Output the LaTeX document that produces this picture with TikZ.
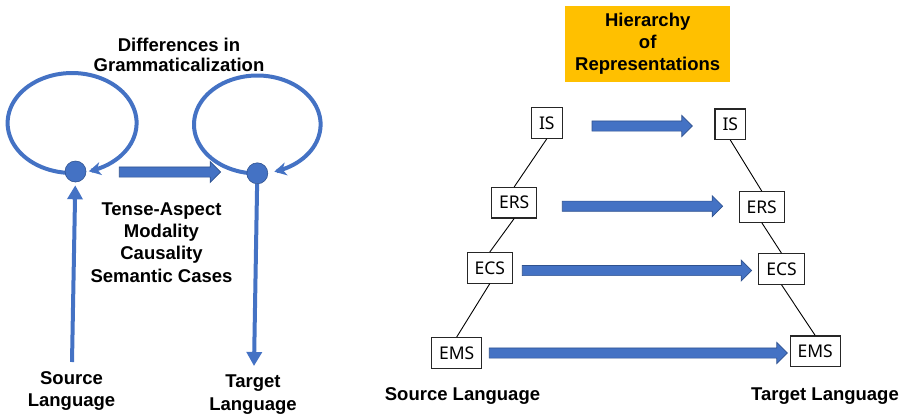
\documentclass[tikz,border=0pt]{standalone}
\usepackage{fontspec}
\setmainfont{Noto Sans}
\newfontfamily\lblfont{Liberation Sans}
\usetikzlibrary{arrows.meta,calc}
\definecolor{blu}{HTML}{4472C4}
\definecolor{bludark}{HTML}{2F528F}
\definecolor{orng}{HTML}{FFC000}
\pgfdeclarelayer{bg}
\pgfsetlayers{bg,main}
\tikzset{
  lbl/.style={font=\lblfont\fontsize{18.5}{22.2}\selectfont\bfseries, align=center, inner sep=0pt},
  rep/.style={draw=black!85, line width=1.1pt, font=\fontsize{17.5}{20}\selectfont, inner xsep=7.5pt, inner ysep=0pt, minimum height=30.5pt},
  link/.style={line width=0.9pt, black},
  dot/.style={circle, fill=blu, draw=bludark, line width=0.6pt, minimum size=21pt, inner sep=0pt},
  loopline/.style={blu, line width=4pt, -{Stealth[length=12pt,width=13pt,inset=3.5pt]}},
  varrow/.style={blu, line width=4pt, -{Triangle[length=14pt,width=15pt]}},
  blockarrow/.style={fill=blu, draw=bludark, line width=0.7pt},
}
\newcommand{\blockarr}[2]{\path[blockarrow] let \p1=(#1), \p2=(#2) in
  (\x1,\y1+5.1pt) -- (\x2-10.5pt,\y1+5.1pt) -- (\x2-10.5pt,\y1+10.5pt) -- (\x2,\y1)
  -- (\x2-10.5pt,\y1-10.5pt) -- (\x2-10.5pt,\y1-5.1pt) -- (\x1,\y1-5.1pt) -- cycle;}
\begin{document}
\begin{tikzpicture}[x=1pt,y=-1pt]
\useasboundingbox (0,0) rectangle (905,416);

% ---------- left part ----------
\node[dot] (dotL) at (75.5,171.5) {};
\node[dot] (dotR) at (257.3,173.3) {};
\coordinate (srcbase) at (72,362);
\coordinate (tgtbase) at (254,366);

\begin{pgfonlayer}{bg}
  \draw[loopline] plot[domain=87:435, samples=90, smooth] ({72.1+64.5*cos(\x)},{123+50*sin(\x)});
  \draw[loopline] plot[domain=90:434.4, samples=90, smooth] ({257.3+63.3*cos(\x)},{124.5+49*sin(\x)});
  \draw[varrow, shorten >=3pt] (srcbase) -- (dotL);
  \draw[varrow] (dotR) -- (tgtbase);
\end{pgfonlayer}

\coordinate (gA) at (119.3,172);
\coordinate (gB) at (220.7,172);
\blockarr{gA}{gB}

\node[lbl, font=\lblfont\fontsize{18.5}{20.5}\selectfont\bfseries] (diff) at (179,55) {Differences in\\Grammaticalization};
\node[lbl] (cats) at (161.5,242.5) {Tense-Aspect\\Modality\\Causality\\Semantic Cases};
\node[lbl] (srcL) at (71.5,391) {Source\\Language};
\node[lbl] (tgtL) at (253,394.5) {Target\\Language};

% ---------- right part ----------
\node[lbl, fill=orng, minimum width=164.7pt, minimum height=75.7pt] (hier) at (647.7,43.8) {Hierarchy\\of\\Representations};

\node[rep] (isL)  at (546.8,123) {IS};
\node[rep] (ersL) at (514.2,202.7) {ERS};
\node[rep] (ecsL) at (489.8,267.8) {ECS};
\node[rep] (emsL) at (456.7,352.8) {EMS};
\node[rep] (isR)  at (730.3,124.2) {IS};
\node[rep] (ersR) at (761.7,206.8) {ERS};
\node[rep] (ecsR) at (781.5,269) {ECS};
\node[rep] (emsR) at (815.2,351.2) {EMS};

\draw[link] (isL.south) -- (ersL.north);
\draw[link] (ersL.south) -- (ecsL.north);
\draw[link] (ecsL.south) -- (emsL.north);
\draw[link] (isR.south) -- (ersR.north);
\draw[link] (ersR.south) -- (ecsR.north);
\draw[link] (ecsR.south) -- (emsR.north);

\coordinate (a1) at (592,126);   \coordinate (b1) at (692.3,126);
\coordinate (a2) at (562.3,206.2); \coordinate (b2) at (722.7,206.2);
\coordinate (a3) at (522.3,270.5); \coordinate (b3) at (751.7,270.5);
\coordinate (a4) at (489.3,353);   \coordinate (b4) at (787.3,353);
\blockarr{a1}{b1}
\blockarr{a2}{b2}
\blockarr{a3}{b3}
\blockarr{a4}{b4}

\node[lbl, anchor=base] (srcR) at (462.5,400) {Source Language};
\node[lbl, anchor=base] (tgtR) at (825,400) {Target Language};
\end{tikzpicture}
\end{document}
